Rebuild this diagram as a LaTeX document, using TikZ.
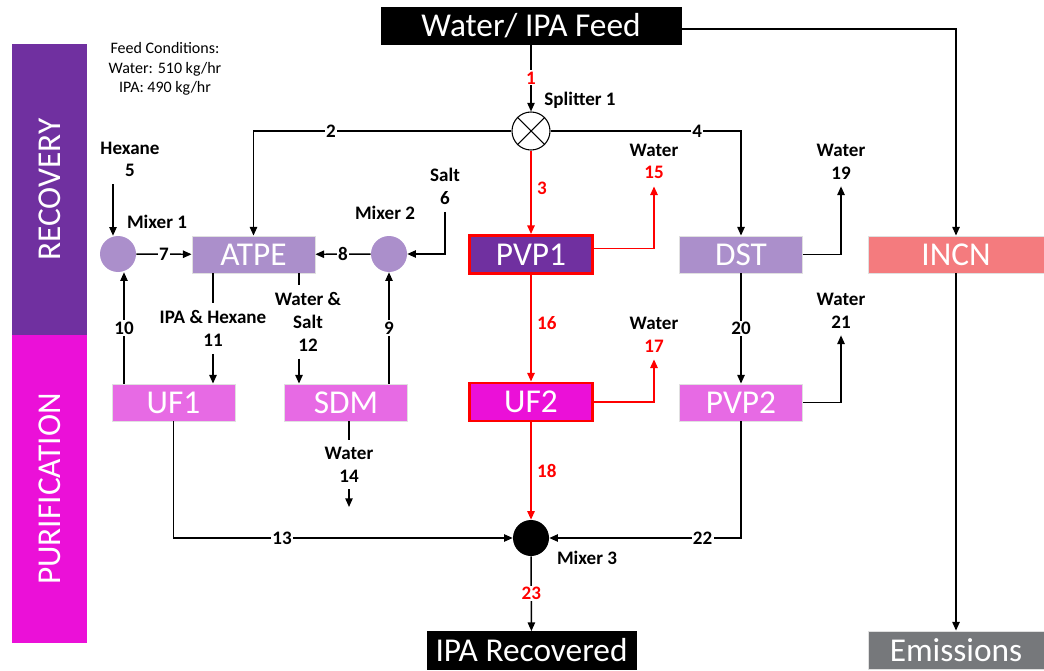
\documentclass[tikz,border=0pt]{standalone}
\usepackage{fontspec}
\setmainfont{Carlito}
\usetikzlibrary{arrows.meta}
\definecolor{recov}{HTML}{7030A0}
\definecolor{purif}{HTML}{EB10D8}
\definecolor{lilac}{HTML}{AB8FCB}
\definecolor{orchid}{HTML}{E76AE4}
\definecolor{salmon}{HTML}{F47B7E}
\definecolor{slate}{HTML}{76787B}

\begin{document}
\begin{tikzpicture}[x=0.75pt,y=-0.75pt,
  procbox/.style={text=white,font=\fontsize{25}{29}\selectfont,inner sep=0pt,
    minimum width=92.25pt,minimum height=27.75pt,draw=black!12,line width=0.6pt},
  hotbox/.style={procbox,draw=red,line width=2.2pt,minimum width=92.3pt,minimum height=28.5pt},
  blackbox/.style={procbox,fill=black,draw=black},
  band/.style={procbox,rotate=90,minimum height=56.25pt,draw=none},
  mixer/.style={circle,inner sep=0pt,minimum size=27pt,fill=lilac},
  lbl/.style={font=\bfseries\fontsize{14.3}{17}\selectfont,inner sep=1pt,align=center},
  tag/.style={lbl,outer ysep=4.5pt},
  num/.style={lbl,fill=white},
  rnum/.style={lbl,anchor=west,xshift=3pt},
  flow/.style={line width=1.1pt,-{Triangle[length=6.5pt,width=5.5pt]}},
  hot/.style={flow,red,line width=1.3pt}]
  \useasboundingbox (0,0) rectangle (1044,670);

  \node[band,fill=recov,minimum width=218.25pt] (recovery) at (49.5,189.5) {RECOVERY};
  \node[band,fill=purif,minimum width=231pt] (purification) at (49.5,489) {PURIFICATION};
  \node[align=center,font=\fontsize{12}{14.6}\selectfont] (cond) at (165,69)
    {Feed Conditions:\\Water: 510 kg/hr\\IPA: 490 kg/hr};

  \node[blackbox,minimum width=225pt] (feed) at (531,25.5) {Water/ IPA Feed};
  \node[circle,draw,line width=0.8pt,fill=white,minimum size=28.5pt,inner sep=0pt] (split) at (531,131) {};
  \draw[line width=0.8pt] (split.north west) -- (split.south east)
    (split.north east) -- (split.south west);
  \node[lbl] (splitname) at (580,100) {Splitter 1};

  \node[procbox,fill=lilac] (atpe) at (253.5,254.5) {ATPE};
  \node[mixer] (mix1) at (118,254) {};
  \node[mixer] (mix2) at (389,254) {};
  \node[hotbox,fill=recov] (pvp1) at (531,254.5) {PVP1};
  \node[procbox,fill=lilac] (dst) at (741,254.5) {DST};
  \node[procbox,fill=salmon,minimum width=132pt] (incn) at (956,254.5) {INCN};
  \node[lbl] (mix1name) at (157,222) {Mixer 1};
  \node[lbl] (mix2name) at (385,213) {Mixer 2};

  \node[procbox,fill=orchid] (uf1) at (173.5,402.5) {UF1};
  \node[procbox,fill=orchid] (sdm) at (346,402.5) {SDM};
  \node[hotbox,fill=purif] (uf2) at (531,402) {UF2};
  \node[procbox,fill=orchid] (pvp2) at (741,402.5) {PVP2};

  \node[mixer,fill=black] (mix3) at (531,538) {};
  \node[lbl] (mix3name) at (587,558) {Mixer 3};
  \node[blackbox,minimum width=156.75pt,minimum height=28.5pt] (recovered) at (531.5,650.5) {IPA Recovered};
  \node[procbox,fill=slate,minimum width=132pt,minimum height=28.5pt] (emis) at (956,650) {Emissions};

  \node[tag] (hex) at (130,159.5) {Hexane\\5};
  \node[tag] (salt) at (445,186.5) {Salt\\6};
  \node[tag] (w15) at (654,161.5) {Water\\\textcolor{red}{15}};
  \node[tag] (w19) at (841,161.5) {Water\\19};
  \node[tag] (iph) at (213,328.5) {IPA \& Hexane\\11};
  \node[tag] (ws) at (308,322) {Water \&\\Salt\\12};
  \node[tag] (w17) at (654,334.5) {Water\\\textcolor{red}{17}};
  \node[tag] (w21) at (841,310.5) {Water\\21};
  \node[tag] (w14) at (349,464.5) {Water\\14};
  \coordinate (out14) at (349,507);

  \draw[flow] (feed) -- node[num,text=red] {1} (split);
  \draw[flow] (split) -| node[num,pos=0.35] {2} (atpe);
  \draw[flow] (split) -| node[num,pos=0.385] {4} (dst);
  \draw[hot] (split) -- node[rnum,pos=0.45] {3} (pvp1);
  \draw[flow] ([yshift=-2.5pt]feed.east) -| (incn);

  \draw[flow] ([xshift=-3.75pt]mix1.north |- hex.south) -- ([xshift=-3.75pt]mix1.north);
  \draw[flow] (mix1) -- node[num] {7} (atpe);
  \draw[flow] (salt.south) |- (mix2);
  \draw[flow] (mix2) -- node[num] {8} (atpe);
  \draw[hot] ([yshift=4.5pt]pvp1.east) -| (w15.south);
  \draw[flow] (dst) -| (w19.south);
  \draw[flow] (incn) -- (emis);

  \draw[line width=1.1pt] (iph.north |- atpe.south) -- (iph.north);
  \draw[flow] (iph.south) -- (iph.south |- uf1.north);
  \draw[line width=1.1pt] ([xshift=-6.75pt]ws.north |- atpe.south) -- ([xshift=-6.75pt]ws.north);
  \draw[flow] ([xshift=-6.75pt]ws.south) -- ([xshift=-6.75pt]ws.south |- sdm.north);
  \draw[flow] ([xshift=4.5pt]mix1.south |- uf1.north) -- node[num] {10} ([xshift=4.5pt]mix1.south);
  \draw[flow] (sdm.north -| mix2) -- node[num] {9} (mix2);
  \draw[hot] (pvp1) -- node[rnum,pos=0.45] {16} (uf2);
  \draw[flow] (dst) -- node[num] {20} (pvp2);
  \draw[hot] (uf2) -| (w17.south);
  \draw[flow] (pvp2) -| (w21.south);

  \draw[line width=1.1pt] (w14.north |- sdm.south) -- (w14.north);
  \draw[flow] (w14.south) -- (out14);
  \draw[flow] (uf1) |- node[num,pos=0.66] {13} (mix3);
  \draw[flow] (pvp2) |- node[num,pos=0.6] {22} (mix3);
  \draw[hot] (uf2) -- node[rnum] {18} (mix3);
  \draw[flow] (mix3) -- node[num,text=red] {23} (recovered);
\end{tikzpicture}
\end{document}
